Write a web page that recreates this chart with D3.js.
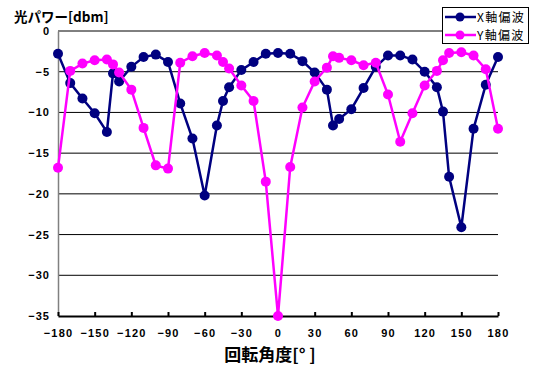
<!DOCTYPE html>
<html>
<head>
<meta charset="utf-8">
<script src="https://cdn.jsdelivr.net/npm/d3@7"></script>
<style>
body{margin:0;background:#fff}
</style>
</head>
<body>
<div id="graph"></div>
<script>
"use strict"
// angles [deg] and measured power [dbm]
var angles=[-180,-170,-160,-150,-140,-135,-130,-120,-110,-100,-90,-80,-70,-60,-50,-45,-40,-30,-20,-10,0,10,20,30,40,45,50,60,70,80,90,100,110,120,130,135,140,150,160,170,180]
var xPol=[-2.8,-6.4,-8.3,-10.1,-12.4,-5.2,-6.2,-4.4,-3.2,-2.9,-3.8,-8.9,-13.2,-20.2,-11.6,-8.6,-6.9,-4.8,-3.8,-2.8,-2.7,-2.8,-3.7,-5.1,-7.2,-11.6,-10.8,-9.6,-7.0,-4.4,-3.0,-3.0,-3.5,-5.0,-6.9,-9.9,-17.9,-24.1,-12.0,-6.6,-3.2]
var yPol=[-16.8,-4.9,-4.0,-3.6,-3.5,-4.1,-5.1,-7.2,-11.9,-16.5,-16.9,-3.9,-3.1,-2.7,-3.0,-3.8,-4.6,-6.7,-8.6,-18.5,-35,-16.7,-9.4,-6.2,-4.5,-3.1,-3.3,-3.6,-4.2,-3.9,-7.8,-13.6,-10.1,-6.7,-4.9,-3.6,-2.7,-2.6,-3.0,-4.7,-12.0]
var xTicks=[-180,-150,-120,-90,-60,-30,0,30,60,90,120,150,180]
var yTicks=[0,-5,-10,-15,-20,-25,-30,-35]
var seriesNames=['X軸偏波','Y軸偏波']
var seriesColors=['#000080','#ff00ff']

var numFont='"Liberation Sans",Arial,sans-serif'
var jpFont='"Noto Sans CJK JP",sans-serif'

function draw(){
  var svg=d3.select('#graph').append('svg').attr('width',541).attr('height',365)
  var x=d3.scaleLinear().domain([-180,180]).range([58,498])
  var y=d3.scaleLinear().domain([-35,0]).range([316,31])

  // horizontal grid
  svg.append('g').selectAll('line').data(yTicks.filter(function(d){return d>-35})).enter()
    .append('line').attr('x1',58).attr('x2',498).attr('y1',function(d){return y(d)}).attr('y2',function(d){return y(d)})
    .attr('stroke','#000').attr('stroke-width',1)

  // y axis
  var ya=svg.append('g').attr('transform','translate(58,0)')
    .call(d3.axisLeft(y).tickValues(yTicks).tickSize(0).tickPadding(8).tickFormat(d3.format('d')))
  ya.select('.domain').attr('stroke','#808080').attr('stroke-width',1.5)
  ya.selectAll('text').attr('font-family',numFont).attr('font-weight','bold').attr('font-size',11).attr('letter-spacing',1).attr('fill','#000')

  // x axis
  var xa=svg.append('g').attr('transform','translate(0,316)')
    .call(d3.axisTop(x).tickValues(xTicks).tickSize(4).tickSizeOuter(0).tickFormat(d3.format('d')))
  xa.select('.domain').attr('stroke','#000').attr('stroke-width',2)
  xa.selectAll('.tick line').attr('stroke','#000').attr('stroke-width',2)
  xa.selectAll('text').attr('y',21).attr('dy',0).attr('font-family',numFont).attr('font-weight','bold').attr('font-size',11).attr('letter-spacing',1.2).attr('fill','#000')

  // series
  var line=d3.line().x(function(d){return x(d[0])}).y(function(d){return y(d[1])})
  var all=[xPol,yPol]
  all.forEach(function(vals,i){
    var pts=angles.map(function(a,j){return [a,vals[j]]})
    var g=svg.append('g')
    g.append('path').datum(pts).attr('d',line).attr('fill','none').attr('stroke',seriesColors[i]).attr('stroke-width',2.5)
    g.selectAll('circle').data(pts).enter().append('circle')
      .attr('cx',function(d){return x(d[0])}).attr('cy',function(d){return y(d[1])}).attr('r',5).attr('fill',seriesColors[i])
  })

  // titles
  svg.append('text').attr('x',14).attr('y',22).attr('font-family',jpFont).attr('font-weight','bold').attr('font-size',13.5).text('光パワー[dbm]')
  svg.append('text').attr('x',270).attr('y',361).attr('text-anchor','middle').attr('font-family',jpFont).attr('font-weight','bold').attr('font-size',17).text('回転角度[°  ]')

  // legend
  var lg=svg.append('g')
  lg.append('rect').attr('x',442.5).attr('y',7.5).attr('width',86).attr('height',36).attr('fill','#fff').attr('stroke','#000').attr('stroke-width',1)
  seriesNames.forEach(function(n,i){
    var ly=17+i*18
    lg.append('line').attr('x1',445).attr('x2',476).attr('y1',ly).attr('y2',ly).attr('stroke',seriesColors[i]).attr('stroke-width',2.5)
    lg.append('circle').attr('cx',460).attr('cy',ly).attr('r',4.5).attr('fill',seriesColors[i])
    lg.append('text').attr('x',477).attr('y',ly+4.5).attr('font-family',jpFont).attr('font-size',12).attr('letter-spacing',1.3).text(n)
  })
}
draw()
</script>
</body>
</html>
